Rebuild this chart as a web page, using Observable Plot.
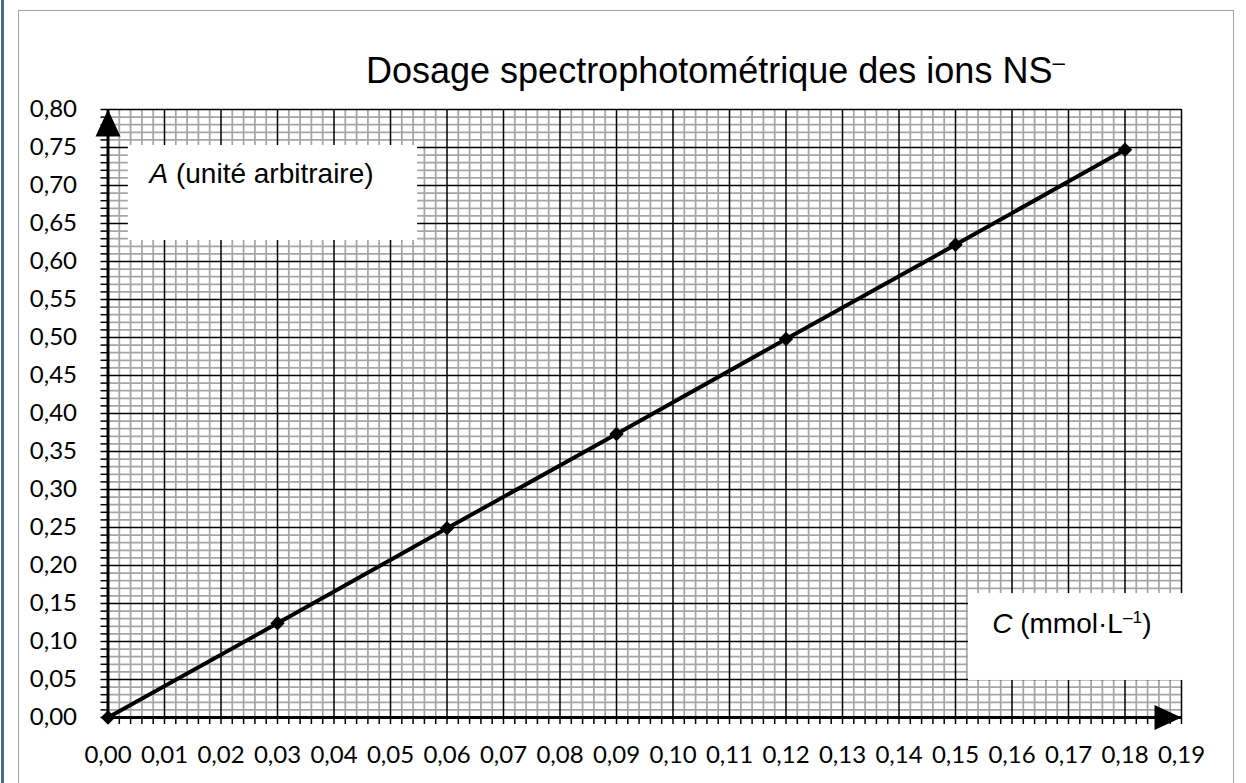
<!DOCTYPE html>
<html><head><meta charset="utf-8">
<script src="https://cdn.jsdelivr.net/npm/d3@7"></script>
<script src="https://cdn.jsdelivr.net/npm/@observablehq/plot@0.6"></script>
<style>
html,body{margin:0;padding:0;background:#fff;}
#wrap{position:relative;width:1246px;height:783px;overflow:hidden;background:#fff;}
#outer{position:absolute;left:18px;top:10px;width:1216px;height:900px;border:1.5px solid #a3a3a3;box-sizing:border-box;pointer-events:none;}
#blue{position:absolute;left:1px;top:0;width:2.5px;height:783px;background:#4b6a8f;}
#chart{position:absolute;left:0;top:0;}
</style></head><body>
<div id="wrap"><div id="outer"></div><div id="blue"></div><div id="chart"></div></div>
<script>
// ---- data ----
const concentration = [0, 0.03, 0.06, 0.09, 0.12, 0.15, 0.18];
const absorbance = [0, 0.124, 0.249, 0.373, 0.498, 0.622, 0.747];
const xTicks = [0, 0.01, 0.02, 0.03, 0.04, 0.05, 0.06, 0.07, 0.08, 0.09, 0.10, 0.11, 0.12, 0.13, 0.14, 0.15, 0.16, 0.17, 0.18, 0.19];
const yTicks = [0, 0.05, 0.10, 0.15, 0.20, 0.25, 0.30, 0.35, 0.40, 0.45, 0.50, 0.55, 0.60, 0.65, 0.70, 0.75, 0.80];
const titleText = "Dosage spectrophotométrique des ions NS–";
const yLabelText = "A (unité arbitraire)";
const xLabelText = "C (mmol·L–1)";

const points = concentration.map((c, i) => ({c, a: absorbance[i]}));
const fmt = d => d.toFixed(2).replace(".", ",");

// sub-divisions of the graph paper
const xMinor = d3.range(0, 96).map(i => i * 0.002).filter((d, i) => i % 5 !== 0);
const xAllTicks = d3.range(0, 96).map(i => i * 0.002);
const yMinor = d3.range(0, 81).map(i => i * 0.01).filter((d, i) => i % 5 !== 0);
const yAllTicks = d3.range(0, 81).map(i => i * 0.01);

const arrowUp = {draw(ctx) { ctx.moveTo(0, 0); ctx.lineTo(-12.5, 27); ctx.lineTo(12.5, 27); ctx.closePath(); }};
const arrowRight = {draw(ctx) { ctx.moveTo(0, 0); ctx.lineTo(-27, -12.5); ctx.lineTo(-27, 12.5); ctx.closePath(); }};

const LS = "Liberation Sans, Arial, Helvetica, sans-serif";
const TF = 36, LF = 28;

const plot = Plot.plot({
  width: 1246,
  height: 783,
  marginLeft: 107.5,
  marginRight: 65,
  marginTop: 109,
  marginBottom: 66,
  style: {background: "transparent", fontFamily: "Lato, Calibri, sans-serif", fontSize: "24px", color: "black"},
  x: {domain: [0, 0.19], label: null},
  y: {domain: [0, 0.8], label: null},
  marks: [
    Plot.ruleX(xMinor, {stroke: "#a6a6a6", strokeWidth: 1.75}),
    Plot.ruleY(yMinor, {stroke: "#a6a6a6", strokeWidth: 1.75}),
    Plot.ruleX(xTicks, {stroke: "black", strokeWidth: 1.5}),
    Plot.ruleY(yTicks, {stroke: "black", strokeWidth: 1.5}),
    // white label boxes
    Plot.rect([0], {x1: 0.0036, x2: 0.0548, y1: 0.6276, y2: 0.7526, fill: "white"}),
    Plot.rect([0], {x1: 0.1523, x2: 0.1905, y1: 0.0487, y2: 0.163, fill: "white"}),
    // data
    Plot.line(points, {x: "c", y: "a", stroke: "black", strokeWidth: 4}),
    Plot.dot(points, {x: "c", y: "a", symbol: "diamond2", r: 6.5, fill: "black", stroke: "none"}),
    // axes
    Plot.ruleX([0], {y1: 0, y2: 0.8, stroke: "black", strokeWidth: 3}),
    Plot.ruleY([0], {x1: 0, x2: 0.19, stroke: "black", strokeWidth: 3}),
    Plot.axisX(xAllTicks, {tickSize: 7, tickFormat: () => "", strokeWidth: 1.5, stroke: "black", label: null}),
    Plot.axisY(yAllTicks, {tickSize: 7, tickFormat: () => "", strokeWidth: 1.5, stroke: "black", label: null}),
    Plot.axisX(xTicks, {tickSize: 0, tickPadding: 28, tickFormat: fmt, fontSize: 24, fill: "black", label: null}),
    Plot.axisY(yTicks, {tickSize: 0, tickPadding: 31, tickFormat: fmt, fontSize: 24, fill: "black", label: null}),
    Plot.dot([0], {x: 0, y: 0.8, symbol: arrowUp, fill: "black", stroke: "none"}),
    Plot.dot([0], {x: 0.19, y: 0, symbol: arrowRight, fill: "black", stroke: "none"}),
    // texts
    Plot.text([titleText], {text: d => d, frameAnchor: "top-left", dx: 258, dy: -27, textAnchor: "start", lineAnchor: "bottom", fontSize: TF, fontFamily: LS, fill: "black"}),
    Plot.text([yLabelText], {text: d => d, frameAnchor: "top-left", dx: 41.5, dy: 73.7, textAnchor: "start", lineAnchor: "bottom", fontSize: LF, fontFamily: LS, fill: "black"}),
    Plot.text([xLabelText], {text: d => d, frameAnchor: "bottom-right", dx: -189.3, dy: -84.3, textAnchor: "start", lineAnchor: "bottom", fontSize: LF, fontFamily: LS, fill: "black"})
  ]
});
document.getElementById("chart").appendChild(plot);

// rich text: italics and superscripts
const svgns = "http://www.w3.org/2000/svg";
function rich(str, parts, fs) {
  plot.querySelectorAll("text").forEach(node => {
    if (node.textContent !== str) return;
    while (node.firstChild) node.removeChild(node.firstChild);
    for (const p of parts) {
      const ts = document.createElementNS(svgns, "tspan");
      ts.textContent = p.t;
      if (p.italic) ts.setAttribute("font-style", "italic");
      if (p.sup) { ts.setAttribute("font-size", fs * 0.62); ts.setAttribute("dy", -fs * 0.36); }
      if (p.unsup) ts.setAttribute("dy", fs * 0.36);
      node.appendChild(ts);
    }
  });
}
rich(titleText, [{t: "Dosage spectrophotométrique des ions NS"}, {t: "–", sup: true}], TF);
rich(yLabelText, [{t: "A", italic: true}, {t: " (unité arbitraire)"}], LF);
rich(xLabelText, [{t: "C", italic: true}, {t: " (mmol·L"}, {t: "–1", sup: true}, {t: ")", unsup: true}], LF);
</script>
</body></html>
